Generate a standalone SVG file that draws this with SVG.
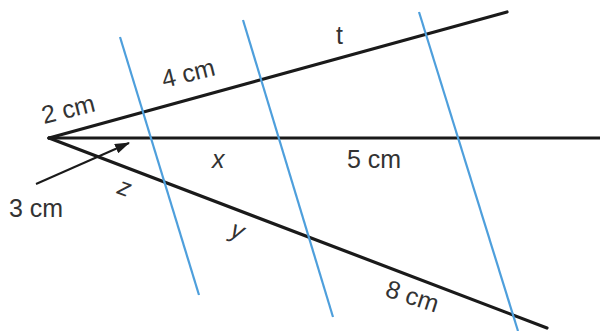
<svg xmlns="http://www.w3.org/2000/svg" width="600" height="331" viewBox="0 0 600 331">
<defs>
<style>
.blk{stroke:#1a1a1a;stroke-width:3.2;fill:none;stroke-linecap:round}
.blu{stroke:#4e9fdc;stroke-width:2.2;fill:none}
.lbl{font-family:"Liberation Sans",Arial,sans-serif;font-size:25px;fill:#333}
.var{font-style:italic}
</style>
<marker id="ah" markerWidth="15" markerHeight="10" refX="14" refY="5" orient="auto" markerUnits="userSpaceOnUse" viewBox="0 0 15 10">
<path d="M0,0 L15,5 L0,10 Z" fill="#1a1a1a"/>
</marker>
</defs>
<rect width="600" height="331" fill="#fff"/>
<g id="connectors">
<line class="blk" x1="49" y1="138" x2="507" y2="12"/>
<line class="blk" x1="49" y1="138" x2="600" y2="138"/>
<line class="blk" x1="49" y1="138" x2="547" y2="328"/>
<line class="blu" x1="120" y1="37" x2="199" y2="295"/>
<line class="blu" x1="243" y1="20" x2="333" y2="317"/>
<line class="blu" x1="419" y1="12" x2="518" y2="331"/>
<line x1="36" y1="184" x2="129" y2="143" stroke="#1a1a1a" stroke-width="2" marker-end="url(#ah)"/>
</g>
<g id="labels">
<text class="lbl" transform="translate(44 124) rotate(-14)">2 cm</text>
<text class="lbl" transform="translate(164 88) rotate(-14)">4 cm</text>
<text class="lbl" x="336" y="44">t</text>
<text class="lbl var" x="212" y="168">x</text>
<text class="lbl" x="347" y="168">5 cm</text>
<text class="lbl" x="9" y="217">3 cm</text>
<text class="lbl var" transform="translate(116 193) rotate(20)">z</text>
<text class="lbl var" transform="translate(229 236) rotate(20)">y</text>
<text class="lbl" transform="translate(384 296) rotate(18)">8 cm</text>
</g>
</svg>
